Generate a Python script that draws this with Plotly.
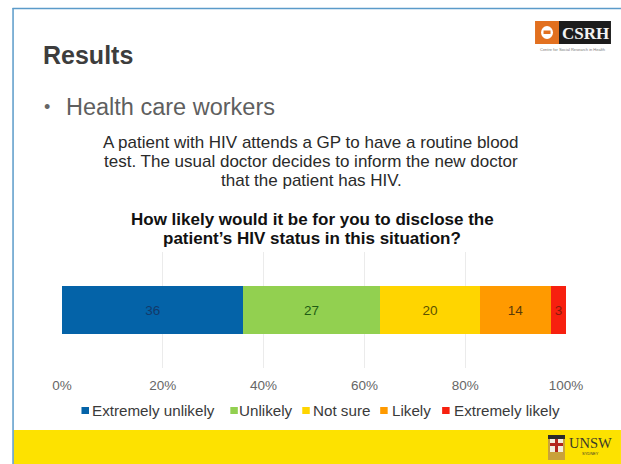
import plotly.graph_objects as go

series_names = ["Extremely unlikely", "Unlikely", "Not sure", "Likely", "Extremely likely"]
series_values = [36, 27, 20, 14, 3]
category = ["Health care workers"]
tick_values = [0, 20, 40, 60, 80, 100]
tick_labels = ["0%", "20%", "40%", "60%", "80%", "100%"]
bar_colors = ["#0463a8", "#92d050", "#ffd500", "#ff9a00", "#f7200f"]
label_colors = ["#123a6b", "#1f5c14", "#5c5200", "#5a3a08", "#8a1a0a"]

W, H = 621, 464
L, R, T, B = 61.5, 566, 252, 368
FONT = "Liberation Sans"
SERIF = "Liberation Serif"


def px(x):
    return (x - L) / (R - L)


def py(y):
    return (B - y) / (B - T)


def rect(x0, x1, y0, y1, color):
    return dict(type="rect", xref="paper", yref="paper", x0=px(x0), x1=px(x1), y0=py(y0), y1=py(y1),
                fillcolor=color, line=dict(width=0), layer="below")


def note(x, y, text, size, color, anchor="left", bold=False, family=FONT):
    return dict(xref="paper", yref="paper", x=px(x), y=py(y),
                text=f"<b>{text}</b>" if bold else text,
                showarrow=False, xanchor=anchor, yanchor="middle",
                font=dict(family=family, size=size, color=color), align="center")


fig = go.Figure()
for name, value, color, lc in zip(series_names, series_values, bar_colors, label_colors):
    fig.add_trace(go.Bar(
        y=category, x=[value], name=name, orientation="h",
        marker=dict(color=color, line=dict(width=0)),
        text=[str(value)], textposition="inside", insidetextanchor="middle",
        textangle=0, constraintext="none",
        textfont=dict(family=FONT, size=13.5, color=lc),
    ))

shapes = [
    rect(13, W, 430, H, "#fde200"),
    dict(type="line", xref="paper", yref="paper", x0=px(12.5), x1=px(12.5), y0=py(8), y1=py(H),
         line=dict(color="#5b9bc9", width=1.5), layer="below"),
    dict(type="line", xref="paper", yref="paper", x0=px(12), x1=px(W), y0=py(8.5), y1=py(8.5),
         line=dict(color="#5b9bc9", width=1.5), layer="below"),
    # CSRH logo
    rect(535, 559, 21, 44, "#e2701f"),
    rect(559, 611, 21, 44, "#1c1c1c"),
    dict(type="circle", xref="paper", yref="paper", x0=px(541), x1=px(553), y0=py(26), y1=py(39),
         fillcolor="#ffffff", line=dict(width=0), layer="below"),
    rect(543.5, 550.5, 30.5, 34, "#e2701f"),
    # UNSW crest
    rect(548, 565, 435, 460, "#c9a23a"),
    rect(550, 563, 439, 452, "#f2efe2"),
    rect(555, 558, 439, 452, "#b3261e"),
    rect(550, 563, 443, 446, "#b3261e"),
    rect(548, 565, 435, 439, "#2b2b2b"),
]

annotations = [
    note(40, 55, "Results", 25, "#3d3d3d", bold=True),
    note(41, 107, "•", 18, "#666666"),
    note(64, 107, "Health care workers", 23.5, "#5f5f5f"),
    note(311, 142, "A patient with HIV attends a GP to have a routine blood", 17, "#2a2a2a", "center"),
    note(311, 161, "test. The usual doctor decides to inform the new doctor", 17, "#2a2a2a", "center"),
    note(311, 180, "that the patient has HIV.", 17, "#2a2a2a", "center"),
    note(312, 219, "How likely would it be for you to disclose the", 17, "#111111", "center", True),
    note(312, 238, "patient’s HIV status in this situation?", 17, "#111111", "center", True),
    note(586, 33, "CSRH", 17, "#f2f2f2", "center", True, SERIF),
    note(573, 49, "Centre for Social Research in Health", 4, "#777777", "center"),
    note(591, 443, "UNSW", 14.5, "#3a3a2a", "center", False, SERIF),
    note(591, 453, "SYDNEY", 4, "#3a3a2a", "center"),
]

# Legend drawn by hand: plotly's own legend cannot set swatches this tight.
legend_swatch_x = [81, 230, 302, 380, 442]
legend_text_x = [90, 236.5, 311, 390, 451.5]
for name, color, sx, tx in zip(series_names, bar_colors, legend_swatch_x, legend_text_x):
    shapes.append(rect(sx, sx + 7.5, 407, 414, color))
    annotations.append(note(tx, 410.5, name, 15.2, "#3a3a3a"))

fig.update_layout(
    width=W, height=H, barmode="stack", bargap=0.592,
    margin=dict(l=L, r=W - R, t=T, b=H - B, autoexpand=False),
    paper_bgcolor="#ffffff", plot_bgcolor="rgba(0,0,0,0)",
    font=dict(family=FONT, color="#595959"),
    shapes=shapes, annotations=annotations,
    showlegend=False,
    xaxis=dict(range=[0, 100], tickvals=tick_values, ticktext=tick_labels,
               showgrid=True, gridcolor="#ebebeb", gridwidth=1, zeroline=False,
               showline=False, ticks="outside", ticklen=5, tickcolor="rgba(0,0,0,0)",
               tickfont=dict(family=FONT, size=13.5, color="#666666")),
    yaxis=dict(showticklabels=False, showgrid=False, zeroline=False, showline=False, ticks=""),
)

fig.write_html("out.html", config={"displayModeBar": False},
               post_script="document.body.style.margin='0';")
